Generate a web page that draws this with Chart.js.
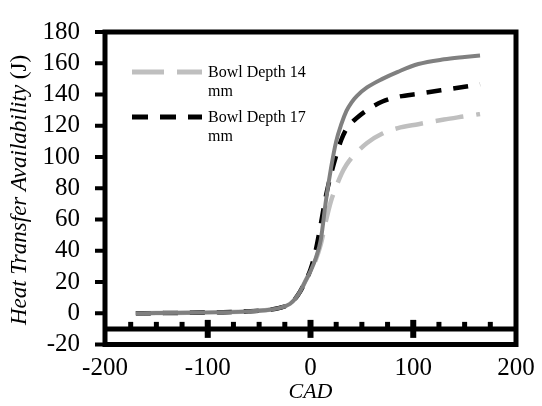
<!DOCTYPE html>
<html>
<head>
<meta charset="utf-8">
<script src="https://cdn.jsdelivr.net/npm/chart.js@4.4.1/dist/chart.umd.min.js"></script>
<style>
  html, body { margin: 0; padding: 0; background: #fff; }
  #wrap { width: 542px; height: 406px; }
</style>
</head>
<body>
<div id="wrap"><canvas id="chart" width="542" height="406"></canvas></div>
<script>
// CAD values (x) shared by all curves
const cad = [-170, -150, -120, -90, -60, -40, -30, -20, -15, -10, -5, 0, 5, 10, 15, 20, 25, 30, 35, 40, 45, 55, 70, 85, 105, 130, 150, 165];

// heat transfer availability (J)
const depth14 = [0, 0.1, 0.3, 0.6, 1.2, 2.2, 3.4, 6, 9.2, 14, 20.5, 27, 34, 44, 59, 72, 81, 89, 95, 99.5, 103, 109, 115, 118.5, 121, 124, 126, 127.5];
const depth17 = [0, 0.1, 0.3, 0.6, 1.2, 2.2, 3.4, 6, 9.2, 14, 20.5, 28, 40, 57, 75, 89, 101, 111, 118, 122, 125, 130, 135.5, 138.5, 140.5, 143, 145, 146.5];
const baseline = [0, 0.1, 0.3, 0.6, 1.2, 2.2, 3.4, 6, 9.2, 14, 20.5, 27, 35, 47, 72, 93, 110, 121, 129.5, 135, 139, 144.5, 150, 154.5, 159.5, 162.5, 164, 165];

const legendNames = ["Bowl Depth 14 mm", "Bowl Depth 17 mm"];
const xTicks = [-200, -100, 0, 100, 200];
const yStep = 20;
const xMinorStep = 25;
const xCross = -10; // where the horizontal axis line sits

const serif = "'Liberation Serif', 'Times New Roman', serif";

function pts(ys) {
  return cad.map((x, i) => ({ x: x, y: ys[i] }));
}

// frame, ticks, axis line at -10, axis titles and the legend
const decor = {
  id: "decor",
  afterDatasetsDraw(chart) {
    const ctx = chart.ctx;
    const a = chart.chartArea;
    const xs = chart.scales.x;
    const ys = chart.scales.y;
    ctx.save();
    ctx.strokeStyle = "#000";

    // y ticks, outside
    ctx.lineWidth = 4;
    for (let v = ys.min; v <= ys.max; v += yStep) {
      const py = ys.getPixelForValue(v);
      ctx.beginPath();
      ctx.moveTo(a.left - 10, py);
      ctx.lineTo(a.left, py);
      ctx.stroke();
    }

    // horizontal axis line
    const yc = ys.getPixelForValue(xCross);
    ctx.lineWidth = 5;
    ctx.beginPath();
    ctx.moveTo(a.left, yc);
    ctx.lineTo(a.right, yc);
    ctx.stroke();

    // minor ticks above, major ticks across
    for (let v = xs.min + xMinorStep; v < xs.max; v += xMinorStep) {
      const px = xs.getPixelForValue(v);
      ctx.beginPath();
      if (v % 100 === 0) {
        ctx.lineWidth = 6;
        ctx.moveTo(px, yc - 9);
        ctx.lineTo(px, yc + 9);
      } else {
        ctx.lineWidth = 5;
        ctx.moveTo(px, yc - 7);
        ctx.lineTo(px, yc);
      }
      ctx.stroke();
    }

    // frame
    ctx.lineWidth = 5;
    ctx.strokeRect(a.left, a.top, a.right - a.left, a.bottom - a.top);

    // y title: italic words + upright unit
    ctx.fillStyle = "#000";
    ctx.textBaseline = "middle";
    const f1 = "italic 23px " + serif;
    const f2 = "23px " + serif;
    const t1 = "Heat Transfer Availability";
    const t2 = " (J)";
    ctx.font = f1;
    const w1 = ctx.measureText(t1).width;
    ctx.font = f2;
    const w2 = ctx.measureText(t2).width;
    ctx.translate(20, 190);
    ctx.rotate(-Math.PI / 2);
    ctx.textAlign = "left";
    ctx.font = f1;
    ctx.fillText(t1, -(w1 + w2) / 2, 0);
    ctx.font = f2;
    ctx.fillText(t2, -(w1 + w2) / 2 + w1, 0);
    ctx.setTransform(1, 0, 0, 1, 0, 0);

    // x title
    ctx.font = "italic 22px " + serif;
    ctx.textAlign = "center";
    ctx.fillText("CAD", (a.left + a.right) / 2, 392);

    // legend
    const rows = [72, 117];
    chart.data.datasets.slice(0, 2).forEach((ds, i) => {
      const y = rows[i];
      ctx.strokeStyle = ds.borderColor;
      ctx.lineWidth = ds.borderWidth + 0.5;
      ctx.setLineDash(ds.legendDash);
      ctx.beginPath();
      ctx.moveTo(132, y);
      ctx.lineTo(202, y);
      ctx.stroke();
      ctx.setLineDash([]);
      ctx.fillStyle = "#000";
      ctx.font = "16px " + serif;
      ctx.textAlign = "left";
      const words = legendNames[i].split(" ");
      ctx.fillText(words.slice(0, 3).join(" "), 208, y + 1);
      ctx.fillText(words.slice(3).join(" "), 208, y + 20);
    });
    ctx.restore();
  }
};

new Chart(document.getElementById("chart"), {
  type: "line",
  data: {
    datasets: [
      {
        label: legendNames[0],
        data: pts(depth14),
        borderColor: "#bfbfbf",
        borderWidth: 4.5,
        borderDash: [28, 13],
        legendDash: [32, 13],
        order: 3
      },
      {
        label: legendNames[1],
        data: pts(depth17),
        borderColor: "#000000",
        borderWidth: 4.5,
        borderDash: [15, 12],
        legendDash: [16, 12],
        order: 2
      },
      {
        label: "",
        data: pts(baseline),
        borderColor: "#808080",
        borderWidth: 4,
        order: 1
      }
    ]
  },
  options: {
    responsive: false,
    animation: false,
    layout: { padding: { top: 21, right: 26, left: 0, bottom: 0 } },
    elements: {
      point: { radius: 0 },
      line: { cubicInterpolationMode: "monotone", fill: false, borderCapStyle: "butt" }
    },
    plugins: {
      legend: { display: false },
      tooltip: { enabled: false }
    },
    scales: {
      x: {
        type: "linear",
        min: -200,
        max: 200,
        afterBuildTicks: s => { s.ticks = xTicks.map(v => ({ value: v })); },
        afterFit: s => { s.height = 61.5; },
        grid: { display: false },
        border: { display: false },
        ticks: { color: "#000", padding: 1, autoSkip: false, maxRotation: 0, font: { family: serif, size: 25 } }
      },
      y: {
        min: -20,
        max: 180,
        afterFit: s => { s.width = 105; },
        grid: { display: false },
        border: { display: false },
        ticks: { stepSize: yStep, color: "#000", padding: 17, autoSkip: false, font: { family: serif, size: 25 } }
      }
    }
  },
  plugins: [decor]
});
</script>
</body>
</html>
